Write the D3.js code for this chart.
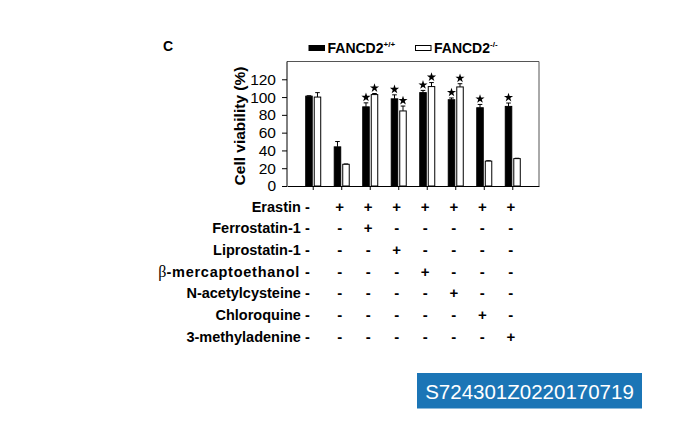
<!DOCTYPE html>
<html>
<head>
<meta charset="utf-8">
<script src="https://cdn.jsdelivr.net/npm/d3@7"></script>
<style>
  html, body { margin: 0; padding: 0; background: #fff; }
  svg { display: block; font-family: "Liberation Sans", Arial, sans-serif; }
</style>
</head>
<body>
<svg id="chart" width="700" height="448"></svg>
<script>
// ---- data ----
const groups = ["G1", "G2", "G3", "G4", "G5", "G6", "G7", "G8"];
const wtValues = [101, 44, 89, 98, 105, 97, 88, 89.5];
const wtErrors = [0.5, 6, 4.5, 4.5, 2.5, 2, 3.7, 3.8];
const koValues = [100, 24.4, 102.8, 84.4, 111.8, 111.4, 28, 30.8];
const koErrors = [5, 0.4, 1.2, 5.5, 4.5, 3.6, 0.4, 0.4];
const wtStars = [false, false, true, true, true, true, true, true];
const koStars = [false, false, true, true, true, true, false, false];
const yTicks = [0, 20, 40, 60, 80, 100, 120];
const treatments = ["Erastin", "Ferrostatin-1", "Liprostatin-1", "β-mercaptoethanol",
                    "N-acetylcysteine", "Chloroquine", "3-methyladenine"];
const signs = [
  ["-", "+", "+", "+", "+", "+", "+", "+"],
  ["-", "-", "+", "-", "-", "-", "-", "-"],
  ["-", "-", "-", "+", "-", "-", "-", "-"],
  ["-", "-", "-", "-", "+", "-", "-", "-"],
  ["-", "-", "-", "-", "-", "+", "-", "-"],
  ["-", "-", "-", "-", "-", "-", "+", "-"],
  ["-", "-", "-", "-", "-", "-", "-", "+"]
];
const seriesKeys = ["wt", "ko"];
const stampText = "S724301Z0220170719";

// ---- layout ----
const svg = d3.select("#chart");
const plot = { left: 287, right: 539, top: 61.5, bottom: 186 };

const x0 = d3.scaleBand().domain(groups).range([plot.left, plot.right])
  .paddingOuter(0.42).paddingInner(0);
const bw = x0.bandwidth();
const x1 = d3.scaleBand().domain(seriesKeys).range([bw / 2 - 8, bw / 2 + 8]).paddingInner(0.12);
const y = d3.scaleLinear().domain([0, 140]).range([plot.bottom, plot.top]);

// frame (top and right)
svg.append("path")
  .attr("d", d3.line()([[plot.left, plot.top], [plot.right, plot.top], [plot.right, plot.bottom]]))
  .attr("fill", "none").attr("stroke", "#555").attr("stroke-width", 1);

// y axis
const yAxis = svg.append("g")
  .attr("transform", `translate(${plot.left},0)`)
  .call(d3.axisLeft(y).tickValues(yTicks).tickSize(5).tickSizeOuter(0).tickPadding(6));
yAxis.select(".domain").attr("d", `M0,${plot.top}V${plot.bottom}`).attr("stroke", "#000");
yAxis.selectAll("text").attr("font-size", 15.5).attr("fill", "#000")
  .attr("font-family", "'Liberation Sans', Arial, sans-serif");

// x axis
const xAxis = svg.append("g")
  .attr("transform", `translate(0,${plot.bottom})`)
  .call(d3.axisBottom(x0).tickSize(4).tickSizeOuter(0).tickFormat(""));
xAxis.select(".domain").attr("stroke", "#000");

// bars
const data = groups.map((g, i) => ({
  g,
  items: [
    { key: "wt", v: wtValues[i], e: wtErrors[i], star: wtStars[i] },
    { key: "ko", v: koValues[i], e: koErrors[i], star: koStars[i] }
  ]
}));
const gg = svg.append("g").selectAll("g").data(data).join("g")
  .attr("transform", d => `translate(${x0(d.g)},0)`);

// error bars
gg.selectAll("path.err").data(d => d.items).join("path").attr("class", "err")
  .attr("d", d => {
    const cx = x1(d.key) + x1.bandwidth() / 2;
    const yt = y(d.v + d.e);
    return `M${cx},${y(d.v)}V${yt}M${cx - 2.3},${yt}H${cx + 2.3}`;
  })
  .attr("stroke", "#000").attr("stroke-width", 1).attr("fill", "none");

gg.selectAll("rect").data(d => d.items).join("rect")
  .attr("x", d => x1(d.key) + 0.5)
  .attr("y", d => y(d.v))
  .attr("width", x1.bandwidth() - 1)
  .attr("height", d => y(0) - y(d.v))
  .attr("fill", d => d.key === "wt" ? "#000" : "#fff")
  .attr("stroke", "#000").attr("stroke-width", 1);

// stars
gg.selectAll("path.star").data(d => d.items.filter(it => it.star)).join("path").attr("class", "star")
  .attr("transform", d => `translate(${x1(d.key) + x1.bandwidth() / 2},${y(d.v + d.e) - 5.5})`)
  .attr("d", d3.symbol(d3.symbolStar).size(26))
  .attr("fill", "#000");

// y axis title
svg.append("text")
  .attr("transform", "translate(245,126) rotate(-90)")
  .attr("text-anchor", "middle")
  .attr("font-size", 15.5).attr("font-weight", "bold")
  .text("Cell viability (%)");

// panel label
svg.append("text").attr("x", 163).attr("y", 50.5)
  .attr("font-size", 14).attr("font-weight", "bold").text("C");

// legend
const legend = svg.append("g");
const legItems = [
  { key: "wt", x: 309, fill: "#000", sup: "+/+" },
  { key: "ko", x: 415.5, fill: "#fff", sup: "-/-" }
];
legItems.forEach(li => {
  legend.append("rect").attr("x", li.x).attr("y", 45.5).attr("width", 15.5).attr("height", 5)
    .attr("fill", li.fill).attr("stroke", "#000").attr("stroke-width", 1);
  const t = legend.append("text").attr("x", li.x + 18.5).attr("y", 52.8)
    .attr("font-size", 14).attr("font-weight", "bold");
  t.append("tspan").text("FANCD2");
  t.append("tspan").attr("font-size", 8).attr("dy", -6).text(li.sup);
});

// treatment table
const rowY = d3.scalePoint().domain(treatments).range([206.5, 336.5]);
const table = svg.append("g");
const labelRight = x0(groups[0]) + bw / 2 - 3.5;
treatments.forEach((name, r) => {
  const t = table.append("text")
    .attr("x", labelRight)
    .attr("y", rowY(name) + 5)
    .attr("text-anchor", "end")
    .attr("font-size", 14.5).attr("font-weight", "bold");
  if (name.startsWith("β")) {
    t.append("tspan").attr("font-family", "'Liberation Serif', serif")
      .attr("font-weight", "normal").attr("font-size", 16).text("β");
    t.append("tspan").attr("letter-spacing", 0.75).text(name.slice(1) + " ");
    t.append("tspan").text(signs[r][0]);
  } else {
    t.text(name + " " + signs[r][0]);
  }
  groups.slice(1).forEach((g, i) => {
    table.append("text")
      .attr("x", x0(g) + bw / 2 - 2)
      .attr("y", rowY(name) + 5)
      .attr("text-anchor", "middle")
      .attr("font-size", 15).attr("font-weight", "bold")
      .text(signs[r][i + 1]);
  });
});

// stamp
svg.append("rect").attr("x", 417).attr("y", 373).attr("width", 225).attr("height", 35.5)
  .attr("fill", "#1b75b6");
svg.append("text").attr("x", 529.5).attr("y", 398.5).attr("text-anchor", "middle")
  .attr("font-size", 20.5).attr("fill", "#fff").text(stampText);
</script>
</body>
</html>
